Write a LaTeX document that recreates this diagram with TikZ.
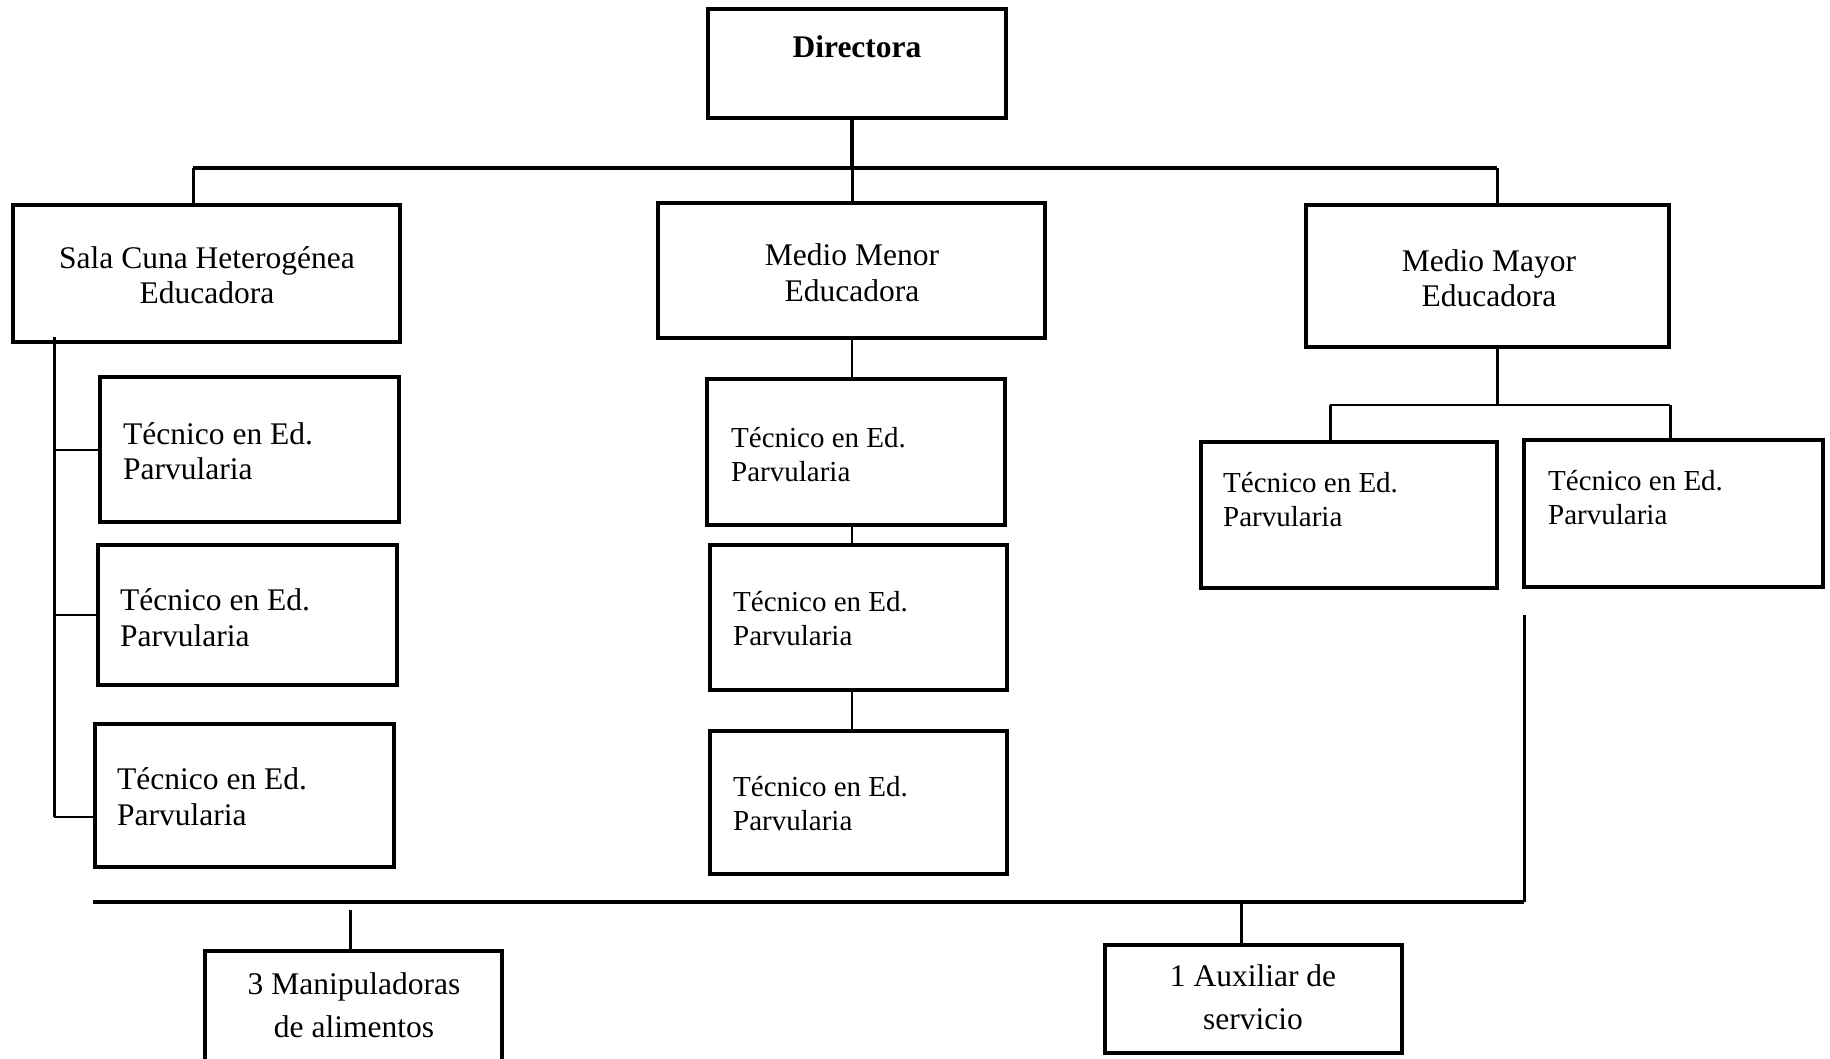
\documentclass[tikz,border=0pt]{standalone}
\usepackage{fontspec}
\setmainfont{Liberation Serif}
\begin{document}
\begin{tikzpicture}[x=1pt,y=-1pt,
  box/.style={draw,line width=3.5pt,inner sep=0pt},
  txt/.style={inner sep=0pt,font=\fontsize{31.5}{35.5}\selectfont,align=center},
  tec/.style={inner sep=0pt,font=\fontsize{31.5}{35.5}\selectfont,align=left,anchor=west},
  tecs/.style={inner sep=0pt,font=\fontsize{29}{34}\selectfont,align=left,anchor=west},
  low/.style={inner sep=0pt,font=\fontsize{31.5}{43}\selectfont,align=center},
  bar/.style={line width=4pt},
  cthree/.style={line width=3pt},
  ctwo/.style={line width=2pt}]
\useasboundingbox (0,0) rectangle (1830,1059);
\clip (0,0) rectangle (1830,1059);
% boxes
\node[box,minimum width=298pt,minimum height=109pt] (dir) at (857,63.5) {};
\node[box,minimum width=387pt,minimum height=137pt] (sc) at (206.5,273.5) {};
\node[box,minimum width=387pt,minimum height=135pt] (mm) at (851.5,270.5) {};
\node[box,minimum width=363pt,minimum height=142pt] (my) at (1487.5,276) {};
\node[box,minimum width=299pt,minimum height=145pt] (t1) at (249.5,449.5) {};
\node[box,minimum width=299pt,minimum height=140pt] (t2) at (247.5,615) {};
\node[box,minimum width=299pt,minimum height=143pt] (t3) at (244.5,795.5) {};
\node[box,minimum width=298pt,minimum height=146pt] (m1) at (856,452) {};
\node[box,minimum width=297pt,minimum height=145pt] (m2) at (858.5,617.5) {};
\node[box,minimum width=297pt,minimum height=143pt] (m3) at (858.5,802.5) {};
\node[box,minimum width=296pt,minimum height=146pt] (r1) at (1349,515) {};
\node[box,minimum width=299pt,minimum height=147pt] (r2) at (1673.5,513.5) {};
\node[box,minimum width=297pt,minimum height=114pt] (mp) at (353.5,1008) {};
\node[box,minimum width=297pt,minimum height=108pt] (ax) at (1253.5,999) {};
% texts
\node[txt] (dirt) at (857,47) {\textbf{Directora}};
\node[txt] (sct) at (207,275) {Sala Cuna Heterogénea\\Educadora};
\node[txt] (mmt) at (852,272.5) {Medio Menor\\Educadora};
\node[txt] (myt) at (1489,278) {Medio Mayor\\Educadora};
\node[tec] (t1t) at (123,451) {Técnico en Ed.\\Parvularia};
\node[tec] (t2t) at (120,617.5) {Técnico en Ed.\\Parvularia};
\node[tec] (t3t) at (117,796.5) {Técnico en Ed.\\Parvularia};
\node[tecs] (m1t) at (731,455) {Técnico en Ed.\\Parvularia};
\node[tecs] (m2t) at (733,619) {Técnico en Ed.\\Parvularia};
\node[tecs] (m3t) at (733,803.5) {Técnico en Ed.\\Parvularia};
\node[tecs] (r1t) at (1223,500) {Técnico en Ed.\\Parvularia};
\node[tecs] (r2t) at (1548,498) {Técnico en Ed.\\Parvularia};
\node[low] (mpt) at (354,1005.5) {3 Manipuladoras\\de alimentos};
\node[low] (axt) at (1253,997.5) {1 Auxiliar de\\servicio};
% top connectors
\coordinate (bL) at (193,168);
\coordinate (bM) at (852,168);
\coordinate (bR) at (1497,168);
\draw[bar] (dir.south -| bM) -- (bM);
\draw[bar] (bL) -- (bR);
\draw[cthree] (bL) -- (bL |- sc.north);
\draw[cthree] (bM) -- (bM |- mm.north);
\draw[cthree] (bR) -- (bR |- my.north);
% left column
\coordinate (lT) at (54,337);
\coordinate (lB) at (54,817);
\draw[cthree] (lT) -- (lB);
\draw[ctwo] (lT |- t1.west) -- (t1.west);
\draw[ctwo] (lT |- t2.west) -- (t2.west);
\draw[ctwo] (lB) -- (lB -| t3.west);
% middle column
\draw[ctwo] (mm.south -| bM) -- (bM |- m1.north);
\draw[ctwo] (m1.south -| bM) -- (bM |- m2.north);
\draw[ctwo] (m2.south -| bM) -- (bM |- m3.north);
% right column
\coordinate (rj) at (1497,405);
\coordinate (rjL) at (1330,405);
\coordinate (rjR) at (1670,405);
\draw[cthree] (my.south -| rj) -- (rj);
\draw[ctwo] (rjL) -- (rjR);
\draw[cthree] (rjL) -- (rjL |- r1.north);
\draw[cthree] (rjR) -- (rjR |- r2.north);
% bottom
\coordinate (vT) at (1524,615);
\coordinate (bbR) at (1524,902);
\coordinate (bbL) at (93,902);
\draw[cthree] (vT) -- (bbR);
\draw[bar] (bbL) -- (bbR);
\coordinate (mpT) at (350,910);
\coordinate (axT) at (1241,902);
\draw[cthree] (mpT) -- (mpT |- mp.north);
\draw[cthree] (axT) -- (axT |- ax.north);
\end{tikzpicture}
\end{document}
